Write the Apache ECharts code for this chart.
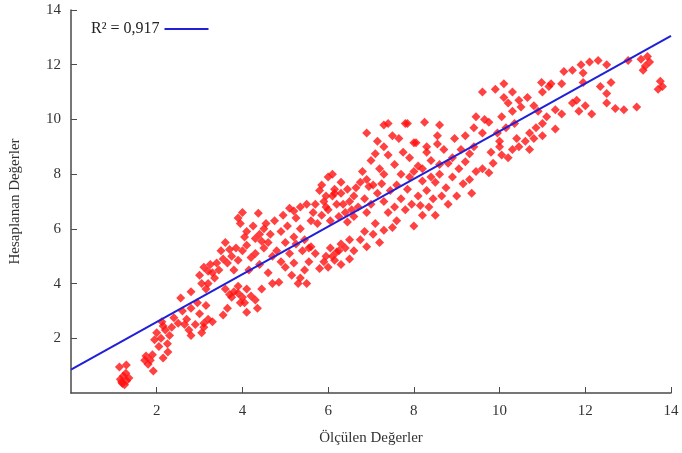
<!DOCTYPE html>
<html>
<head>
<meta charset="utf-8">
<script src="https://cdn.jsdelivr.net/npm/echarts@6/dist/echarts.min.js"></script>
<style>
	html, body { margin: 0; padding: 0; background: #fff; }
	#chart { width: 682px; height: 453px; }
</style>
</head>
<body>
<div id="chart"></div>
<script>
// ölçülen / hesaplanan noktalar, x aralıklarına göre
const groupA = [
	[1.13, 0.95], [1.29, 1.02], [1.15, 0.5], [1.22, 0.62], [1.3, 0.45], [1.2, 0.35], [1.35, 0.55], [1.28, 0.72], [1.18, 0.4], [1.25, 0.3],
	[1.75, 1.35], [1.85, 1.2], [1.9, 1.4], [1.8, 1.05], [1.72, 1.2], [1.92, 0.8], [2.15, 1.28], [2.26, 1.5],
	[2.0, 2.2], [2.1, 2.0], [2.2, 2.3], [2.3, 2.1], [2.15, 2.45], [1.95, 1.95], [2.25, 1.8], [2.05, 1.7], [2.35, 2.4], [2.12, 2.6], [2.4, 2.75]
];
const groupB = [
	[2.56, 3.47], [2.8, 3.7], [2.6, 3.0], [2.7, 2.7], [2.8, 3.1], [2.9, 2.5], [3.0, 2.9], [3.1, 2.4], [3.2, 2.7], [2.75, 2.3], [3.05, 2.2],
	[2.65, 2.5], [2.8, 2.1], [2.5, 2.55], [2.95, 3.3], [3.15, 3.2],
	[3.0, 4.3], [3.1, 4.6], [3.2, 4.0], [3.3, 4.4], [3.15, 3.8], [3.05, 4.0], [3.25, 4.7], [3.35, 4.2], [3.4, 4.75], [3.45, 4.5], [3.2, 4.45],
	[3.55, 2.85], [3.65, 3.1], [3.3, 2.6], [3.1, 2.55]
];
const groupC = [
	[3.8, 3.7], [3.9, 3.9], [4.0, 3.5], [4.1, 3.8], [3.95, 3.3], [3.7, 3.6], [3.6, 3.8], [3.75, 3.5], [3.9, 3.65], [4.05, 3.3], [4.2, 3.55],
	[4.35, 3.1], [4.1, 2.95], [4.45, 3.8], [4.3, 3.4],
	[3.5, 5.2], [3.6, 5.5], [3.75, 5.0], [3.85, 5.3], [3.55, 4.9], [3.65, 4.75], [3.9, 4.85], [3.7, 5.25],
	[3.95, 6.2], [4.0, 6.6], [4.1, 5.9], [4.25, 6.1], [4.4, 5.8], [4.5, 6.0], [4.3, 5.65], [4.05, 5.7], [4.37, 6.57], [3.9, 6.4],
	[4.1, 5.4], [4.3, 5.1], [4.5, 5.3], [4.2, 4.95], [4.0, 5.2], [4.4, 4.7], [4.15, 4.5], [3.8, 4.5], [4.45, 5.55]
];
const groupD = [
	[4.7, 5.0], [4.6, 5.5], [4.8, 5.2], [4.75, 6.3], [4.9, 5.9], [5.05, 6.1], [5.2, 5.7], [5.35, 6.0], [5.45, 5.6], [5.0, 5.5], [5.25, 6.4],
	[5.2, 6.65], [5.35, 6.8], [5.5, 6.9], [5.1, 6.75],
	[5.0, 4.6], [5.15, 4.3], [5.3, 4.0], [5.45, 4.5], [5.2, 4.75], [5.35, 4.2], [4.7, 4.0], [4.85, 4.05], [4.6, 4.4], [4.9, 4.8], [5.1, 5.1],
	[5.4, 5.2], [4.55, 6.2], [4.65, 5.8], [4.95, 6.5], [5.5, 4.0], [5.55, 5.3], [5.25, 5.45]
];
const groupE = [
	[5.8, 7.4], [5.9, 7.0], [6.0, 6.7], [6.1, 7.2], [6.2, 6.9], [6.3, 7.3], [6.4, 6.6], [6.5, 7.0], [5.85, 6.5], [6.05, 6.3], [6.25, 6.45],
	[6.45, 7.45], [6.35, 6.9], [6.15, 7.45], [5.95, 6.8], [6.55, 6.7],
	[5.85, 7.6], [6.0, 7.9], [6.15, 7.3], [6.3, 7.7], [5.95, 7.2], [6.1, 8.0],
	[5.6, 6.3], [5.7, 6.9], [5.65, 6.6], [5.75, 6.2], [6.45, 6.25], [6.6, 6.45],
	[5.7, 5.1], [5.9, 4.8], [6.1, 5.0], [6.3, 4.7], [6.5, 4.9], [6.2, 5.15], [6.0, 4.6], [6.05, 5.3], [6.3, 5.45], [6.5, 5.6], [6.25, 5.2],
	[5.8, 4.55], [5.95, 5.0], [6.15, 4.85], [6.4, 5.3], [5.6, 5.35], [5.55, 4.8]
];
const groupF = [
	[6.65, 7.5], [6.8, 8.1], [6.9, 7.8], [7.0, 8.5], [7.2, 8.2], [7.4, 8.7], [7.3, 8.0], [7.1, 8.75], [6.75, 7.7], [6.95, 7.55],
	[7.3, 9.8], [7.5, 9.4], [7.3, 9.0], [7.4, 9.85], [6.9, 9.5], [7.15, 9.2],
	[6.7, 6.8], [6.85, 7.1], [7.0, 6.9], [7.15, 7.3], [7.3, 7.0], [7.45, 7.4], [6.6, 7.2], [7.05, 7.6], [7.25, 7.65], [6.9, 6.6],
	[6.75, 5.6], [6.9, 5.35], [7.05, 5.8], [7.2, 5.5], [7.3, 5.95], [6.85, 5.9], [7.1, 6.2], [6.6, 5.2], [7.4, 6.6], [7.5, 6.05]
];
const groupG = [
	[7.8, 9.85], [8.0, 9.15], [8.3, 9.0], [8.55, 9.4], [8.6, 9.8], [7.85, 9.85], [8.25, 9.9], [8.05, 9.15], [7.65, 9.3],
	[7.55, 8.35], [7.7, 8.0], [7.9, 8.6], [8.1, 8.3], [8.2, 8.2], [8.4, 8.5], [8.3, 8.8], [7.75, 8.8], [8.0, 8.1],
	[7.6, 6.3], [7.8, 6.7], [8.0, 6.1], [8.2, 6.5], [8.35, 6.8], [7.95, 6.9], [8.1, 7.2], [8.3, 7.4], [8.45, 7.1], [7.85, 7.45], [7.7, 7.1],
	[7.6, 7.6], [8.2, 7.75], [8.4, 7.9], [7.9, 7.9], [7.55, 6.8], [8.15, 6.85], [8.5, 6.5]
];
const groupH = [
	[8.6, 8.0], [8.8, 8.4], [8.5, 7.7], [8.9, 7.9], [8.7, 8.9], [8.9, 8.6], [9.1, 8.9], [8.55, 9.1], [8.75, 7.5], [9.0, 7.2], [8.65, 7.2],
	[9.05, 8.2], [9.2, 8.45], [9.3, 8.75], [9.2, 9.4], [9.4, 9.0],
	[9.4, 9.7], [9.45, 10.1], [9.3, 7.8], [9.35, 7.3], [9.45, 8.1], [8.8, 6.9], [9.15, 7.65], [8.95, 9.3], [8.6, 8.35]
];
const groupI = [
	[9.6, 11.0], [9.6, 9.5], [9.8, 8.8], [10.0, 9.2], [9.65, 10.0], [9.75, 9.9], [9.6, 8.2], [9.75, 8.05], [9.85, 8.4],
	[9.9, 11.1], [10.1, 11.3], [10.3, 11.0], [10.05, 10.1], [10.2, 10.6], [10.3, 10.3], [10.1, 10.8], [9.95, 9.5], [10.15, 9.7], [10.35, 9.85],
	[10.2, 8.6], [10.3, 8.9], [10.45, 9.0], [10.05, 8.7], [10.0, 9.0], [10.5, 10.45], [10.45, 10.7], [10.4, 9.3]
];
const groupJ = [
	[10.65, 10.8], [10.8, 10.5], [11.0, 11.0], [11.15, 11.2], [10.98, 11.35], [11.2, 11.3], [11.45, 11.3],
	[10.7, 9.5], [10.85, 9.7], [11.0, 9.85], [10.7, 8.9], [10.6, 9.2], [10.8, 9.3], [11.0, 9.4], [11.3, 9.65], [11.1, 10.1], [11.3, 10.35],
	[11.45, 10.2], [10.9, 10.3]
];
const groupK = [
	[11.5, 11.75], [11.7, 11.8], [11.9, 12.0], [12.1, 12.1], [12.3, 12.15], [12.5, 12.0], [11.95, 11.7], [11.95, 11.35], [12.35, 11.2],
	[12.6, 11.35], [12.5, 10.95],
	[11.7, 10.6], [11.85, 10.3], [12.0, 10.5], [12.15, 10.2], [11.8, 10.7],
	[12.5, 10.6], [12.7, 10.4], [12.9, 10.35], [13.2, 10.45],
	[13.0, 12.15], [13.3, 12.2], [13.4, 11.95], [13.5, 12.1], [13.35, 11.8], [13.45, 12.3],
	[13.75, 11.4], [13.8, 11.2], [13.7, 11.1]
];
const trendLine = [[0, 0.85], [14, 13.05]];
const trendName = "R\u00b2 = 0,917";
const tickStep = 2;

const points = [].concat(groupA, groupB, groupC, groupD, groupE, groupF, groupG, groupH, groupI, groupJ, groupK);

const font = "Liberation Serif";
const axisColor = "#4a4a4a";

let myChart = echarts.init(document.getElementById("chart"));
let option = {
	animation: false,
	grid: {
		left: 66,
		right: 11,
		top: 10,
		bottom: 60
	},
	legend: {
		data: [{ name: trendName, icon: "rect" }],
		left: 86,
		top: 16,
		align: "right",
		itemWidth: 44,
		itemHeight: 2,
		itemGap: 10,
		textStyle: { fontFamily: font, fontSize: 16, color: "#222" }
	},
	xAxis: {
		type: "value",
		min: 0,
		max: 14,
		interval: tickStep,
		name: "Ölçülen Değerler",
		nameLocation: "middle",
		nameGap: 38,
		nameTextStyle: { fontFamily: font, fontSize: 15, color: "#333" },
		axisLine: { lineStyle: { color: axisColor, width: 1.5 } },
		axisTick: { inside: true, length: 6, lineStyle: { color: axisColor } },
		axisLabel: {
			showMinLabel: false,
			margin: 11,
			fontFamily: font,
			fontSize: 15,
			color: "#333"
		},
		splitLine: { show: false }
	},
	yAxis: {
		type: "value",
		min: 0,
		max: 14,
		interval: tickStep,
		name: "Hesaplanan Değerler",
		nameLocation: "middle",
		nameGap: 48,
		nameTextStyle: { fontFamily: font, fontSize: 15, color: "#333" },
		axisLine: { show: true, lineStyle: { color: axisColor, width: 1.5 } },
		axisTick: { show: true, inside: true, length: 6, lineStyle: { color: axisColor } },
		axisLabel: {
			showMinLabel: false,
			margin: 10,
			fontFamily: font,
			fontSize: 15,
			color: "#333"
		},
		splitLine: { show: false }
	},
	series: [
		{
			name: "Veri",
			type: "scatter",
			symbol: "diamond",
			symbolSize: 9,
			itemStyle: { color: "#ff1212" },
			data: points
		},
		{
			name: trendName,
			type: "line",
			symbol: "none",
			lineStyle: { color: "#2020d8", width: 2 },
			itemStyle: { color: "#2020d8" },
			data: trendLine,
			z: 3
		}
	]
};
myChart.setOption(option);
</script>
</body>
</html>
